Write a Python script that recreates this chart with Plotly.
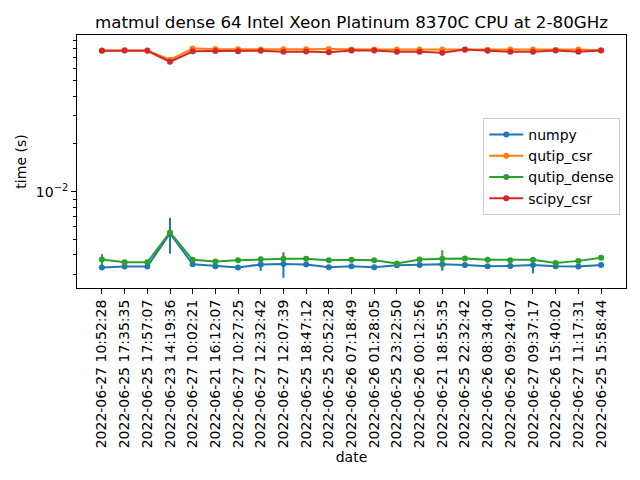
import plotly.graph_objects as go

# benchmark run labels (x axis categories)
dates = [
    "2022-06-27 10:52:28", "2022-06-25 17:35:35", "2022-06-25 17:57:07",
    "2022-06-23 14:19:36", "2022-06-27 10:02:21", "2022-06-21 16:12:07",
    "2022-06-27 10:27:25", "2022-06-27 12:32:42", "2022-06-27 12:07:39",
    "2022-06-25 18:47:12", "2022-06-25 20:52:28", "2022-06-26 07:18:49",
    "2022-06-26 01:28:05", "2022-06-25 23:22:50", "2022-06-26 00:12:56",
    "2022-06-21 18:55:35", "2022-06-25 22:32:42", "2022-06-26 08:34:00",
    "2022-06-26 09:24:07", "2022-06-27 09:37:17", "2022-06-26 15:40:02",
    "2022-06-27 11:17:31", "2022-06-25 15:58:44",
]

# mean times (s)
numpy_t = [0.003334, 0.003383, 0.003383, 0.005463, 0.003499, 0.003398, 0.003334,
           0.003484, 0.003514, 0.003484, 0.003349, 0.003390, 0.003349, 0.003448,
           0.003463, 0.003499, 0.003463, 0.003398, 0.003413, 0.003463, 0.003398,
           0.003383, 0.003463]
qutip_csr_t = [0.07755, 0.0778, 0.07755, 0.06777, 0.07983, 0.0791, 0.0789,
               0.07868, 0.0789, 0.0789, 0.0792, 0.07868, 0.07868, 0.07868,
               0.07868, 0.07868, 0.0785, 0.0784, 0.07868, 0.07868, 0.078,
               0.07868, 0.0778]
qutip_dense_t = [0.003747, 0.003602, 0.003602, 0.005542, 0.003725, 0.003639,
                 0.003709, 0.003763, 0.00378, 0.00378, 0.003709, 0.003735,
                 0.003709, 0.003535, 0.003747, 0.00378, 0.003801, 0.003725,
                 0.003709, 0.003725, 0.003566, 0.003671, 0.003835]
scipy_csr_t = [0.07721, 0.07755, 0.07721, 0.06583, 0.07665, 0.0769, 0.07665,
               0.07721, 0.0761, 0.0763, 0.07554, 0.07755, 0.07755, 0.0761,
               0.0761, 0.075, 0.07868, 0.07721, 0.0761, 0.0761, 0.07755,
               0.0761, 0.07755]

# standard deviations (s)
numpy_err = [0.00003, 0.00003, 0.00003, 0.00139, 0.00003, 0.00003, 0.00003,
             0.00031, 0.00064, 0.00003, 0.00003, 0.00003, 0.00003, 0.00003,
             0.00003, 0.00032, 0.00003, 0.00003, 0.00003, 0.0004, 0.00003,
             0.00003, 0.00003]
qutip_csr_err = [0.0005] * 23
qutip_dense_err = [0.0003, 0.00003, 0.00003, 0.0002, 0.00003, 0.00003, 0.00003,
                   0.00003, 0.00003, 0.00003, 0.00003, 0.00003, 0.00003, 0.00003,
                   0.00003, 0.0005, 0.00003, 0.00003, 0.00003, 0.00003, 0.00003,
                   0.00003, 0.00003]
scipy_csr_err = [0.0005] * 23

series = [
    ("numpy", numpy_t, numpy_err, "#1f77b4"),
    ("qutip_csr", qutip_csr_t, qutip_csr_err, "#ff7f0e"),
    ("qutip_dense", qutip_dense_t, qutip_dense_err, "#2ca02c"),
    ("scipy_csr", scipy_csr_t, scipy_csr_err, "#d62728"),
]

fig = go.Figure()
for name, vals, err, color in series:
    fig.add_trace(go.Scatter(
        x=dates, y=vals, name=name, mode="lines+markers",
        line=dict(color=color, width=2),
        marker=dict(color=color, size=6),
        error_y=dict(type="data", array=err, visible=True,
                     color=color, thickness=2, width=0),
    ))

font = "DejaVu Sans"
# the page body has an 8px margin, so the figure is drawn 8px right and down
fig.update_layout(
    width=640, height=480,
    paper_bgcolor="white", plot_bgcolor="white",
    margin=dict(l=69, r=22, t=27, b=200),
    font=dict(family=font, size=14, color="black"),
    title=dict(text="matmul dense 64 Intel Xeon Platinum 8370C CPU at 2-80GHz",
               x=0.5, xref="paper", xanchor="center",
               y=1 - 14 / 480, yanchor="middle",
               font=dict(family=font, size=16.7, color="black")),
    legend=dict(x=0.74, y=0.672, xanchor="left", yanchor="top",
                bgcolor="rgba(255,255,255,0.8)", bordercolor="#cccccc",
                borderwidth=1, font=dict(size=14), tracegroupgap=0,
                itemwidth=34),
    showlegend=True,
)

fig.update_xaxes(
    type="category", range=[-1.1, 23.1], automargin=False,
    tickangle=-90, ticks="outside", ticklen=5, tickwidth=1.1, tickcolor="black",
    showline=True, linecolor="black", linewidth=1.1, mirror=True,
    showgrid=False, zeroline=False,
    title=dict(text="date", font=dict(size=14), standoff=4),
    tickfont=dict(size=14),
)
fig.update_yaxes(
    type="log", range=[-2.606, -1.013], automargin=False,
    tickvals=[0.01], ticktext=["10<sup>−2</sup>"],
    ticks="outside", ticklen=5, tickwidth=1.1, tickcolor="black",
    minor=dict(tickvals=[0.003, 0.004, 0.005, 0.006, 0.007, 0.008, 0.009,
                         0.02, 0.03, 0.04, 0.05, 0.06, 0.07, 0.08, 0.09],
               ticks="outside", ticklen=3, tickwidth=0.8, tickcolor="black",
               showgrid=False),
    showline=True, linecolor="black", linewidth=1.1, mirror=True,
    showgrid=False, zeroline=False,
    title=dict(text="time (s)", font=dict(size=14), standoff=5),
    tickfont=dict(size=14),
)

fig.write_html("out.html")
